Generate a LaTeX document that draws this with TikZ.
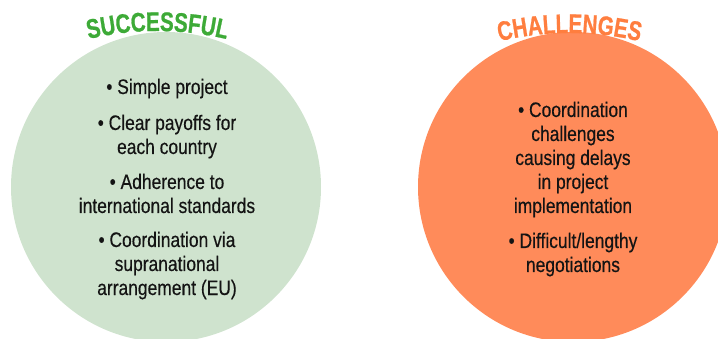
\documentclass[tikz,border=0pt]{standalone}
\usepackage{fontspec}
\setmainfont{Liberation Sans}
\newfontfamily\bodyfont{Liberation Sans}[FakeStretch=0.83,FakeBold=0.35]
\newfontfamily\titlefont{Liberation Sans Bold}[FakeStretch=0.76,FakeBold=0.8]
\usetikzlibrary{decorations.text}
\definecolor{greenfill}{HTML}{CFE3CE}
\definecolor{orangefill}{HTML}{FF8B5A}
\definecolor{greentitle}{HTML}{3DAA37}
\definecolor{orangetitle}{HTML}{FF7E3F}
\definecolor{bodytext}{HTML}{141414}
\tikzset{
  bigcircle/.style={circle, inner sep=0pt, minimum size=310pt},
  itemline/.style={font=\bodyfont\fontsize{21}{24}\selectfont, text=bodytext, anchor=base, inner sep=0pt}
}
\begin{document}
\begin{tikzpicture}[x=1pt,y=-1pt]
\useasboundingbox (0,0) rectangle (718,339);
\begin{scope}
  \clip (0,0) rectangle (718,339);
  \node[bigcircle, fill=greenfill] (good) at (166,187) {};
  \node[bigcircle, fill=orangefill] (bad) at (573,187) {};
\end{scope}
% titles along arcs
\path[decorate, decoration={text along path, text align=center, text color=greentitle,
      text={|\titlefont\fontsize{27}{27}\selectfont|SUCCESSFUL}}]
  (7.5,71.2) arc[start angle=120, end angle=60, radius=300pt];
\path[decorate, decoration={text along path, text align=center, text color=orangetitle,
      text={|\titlefont\fontsize{27}{27}\selectfont|CHALLENGES}}]
  (419.5,73.2) arc[start angle=120, end angle=60, radius=300pt];
% left items
\node[itemline] (s1)  at (167,94)  {• Simple project};
\node[itemline] (s2a) at (167,130) {• Clear payoffs for};
\node[itemline] (s2b) at (167,154) {each country};
\node[itemline] (s3a) at (167,189) {• Adherence to};
\node[itemline] (s3b) at (167,213) {international standards};
\node[itemline] (s4a) at (167,247) {• Coordination via};
\node[itemline] (s4b) at (167,271) {supranational};
\node[itemline] (s4c) at (167,295) {arrangement (EU)};
% right items
\node[itemline] (c1a) at (573,117) {• Coordination};
\node[itemline] (c1b) at (573,141) {challenges};
\node[itemline] (c1c) at (573,165) {causing delays};
\node[itemline] (c1d) at (573,189) {in project};
\node[itemline] (c1e) at (573,213) {implementation};
\node[itemline] (c2a) at (573,248) {• Difficult/lengthy};
\node[itemline] (c2b) at (573,272) {negotiations};
\end{tikzpicture}
\end{document}
